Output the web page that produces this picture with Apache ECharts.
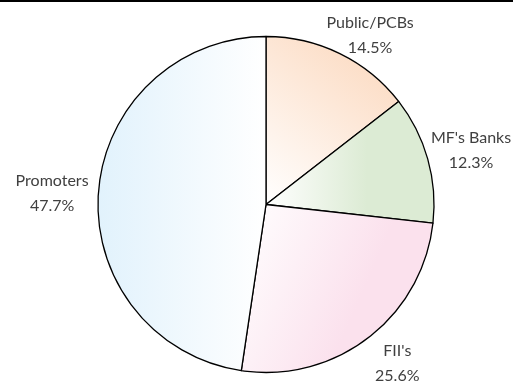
<!DOCTYPE html>
<html>
<head>
<meta charset="utf-8">
<script src="https://cdn.jsdelivr.net/npm/echarts@6/dist/echarts.min.js"></script>
<style>
html,body{margin:0;padding:0;background:#fff;}
#main{width:513px;height:384px;}
</style>
</head>
<body>
<div id="main"></div>
<script>
const categories = ['Public/PCBs', "MF's Banks", "FII's", 'Promoters'];
const values = [14.5, 12.3, 25.6, 47.7];
const sliceColors = ['#fcdcc4', '#dcebd4', '#fbe1ed', '#e1f2fc'];

const CX = 266, CY = 204.5, R = 168, GAP = 7;
// small per-label placement tweaks (styling only)
const labelNudge = [[8, 10], [-2, 0], [11, 0], [-3, 4]];
const total = values.reduce((a, b) => a + b, 0);

function grad(i) {
  const c = sliceColors[i];
  if (i === 0) return new echarts.graphic.LinearGradient(0, 1, 1, 0, [{offset: 0, color: '#ffffff'}, {offset: 0.85, color: c}, {offset: 1, color: c}]);
  if (i === 1) return new echarts.graphic.LinearGradient(0, 0, 1, 0, [{offset: 0, color: '#ffffff'}, {offset: 0.6, color: c}, {offset: 1, color: c}]);
  if (i === 2) return new echarts.graphic.LinearGradient(0, 0, 1, 0.5, [{offset: 0, color: '#ffffff'}, {offset: 0.7, color: c}, {offset: 1, color: c}]);
  return new echarts.graphic.LinearGradient(0, 0, 1, 0, [{offset: 0, color: c}, {offset: 1, color: '#ffffff'}]);
}

const chart = echarts.init(document.getElementById('main'), null, {renderer: 'canvas'});
chart.setOption({
  animation: false,
  backgroundColor: '#ffffff',
  graphic: [{
    type: 'rect', left: 0, top: 0,
    shape: {width: 513, height: 2},
    style: {fill: '#000000'}
  }],
  series: [{
    type: 'pie',
    center: [CX, CY],
    radius: R,
    startAngle: 90,
    clockwise: true,
    avoidLabelOverlap: false,
    data: categories.map((n, i) => ({name: n, value: values[i], itemStyle: {color: grad(i)}})),
    itemStyle: {borderColor: '#000000', borderWidth: 1.3},
    emphasis: {disabled: true},
    label: {
      show: true,
      position: 'outside',
      formatter: '{b}\n{c}%',
      fontFamily: 'Lato',
      fontSize: 16,
      lineHeight: 25,
      color: '#404040',
      align: 'center'
    },
    labelLine: {show: false, length: 0, length2: 0},
    labelLayout: function (params) {
      const i = params.dataIndex;
      let cum = 0;
      for (let k = 0; k < i; k++) cum += values[k];
      cum += values[i] / 2;
      const a = cum / total * Math.PI * 2;
      const s = Math.sin(a), c = Math.cos(a);
      const w = params.labelRect.width, h = params.labelRect.height;
      const ax = CX + (R + GAP) * s;
      const ay = CY - (R + GAP) * c;
      return {
        x: ax + s * w / 2 + labelNudge[i][0],
        y: ay - c * h / 2 + labelNudge[i][1],
        align: 'center',
        verticalAlign: 'middle'
      };
    }
  }]
});
</script>
</body>
</html>
